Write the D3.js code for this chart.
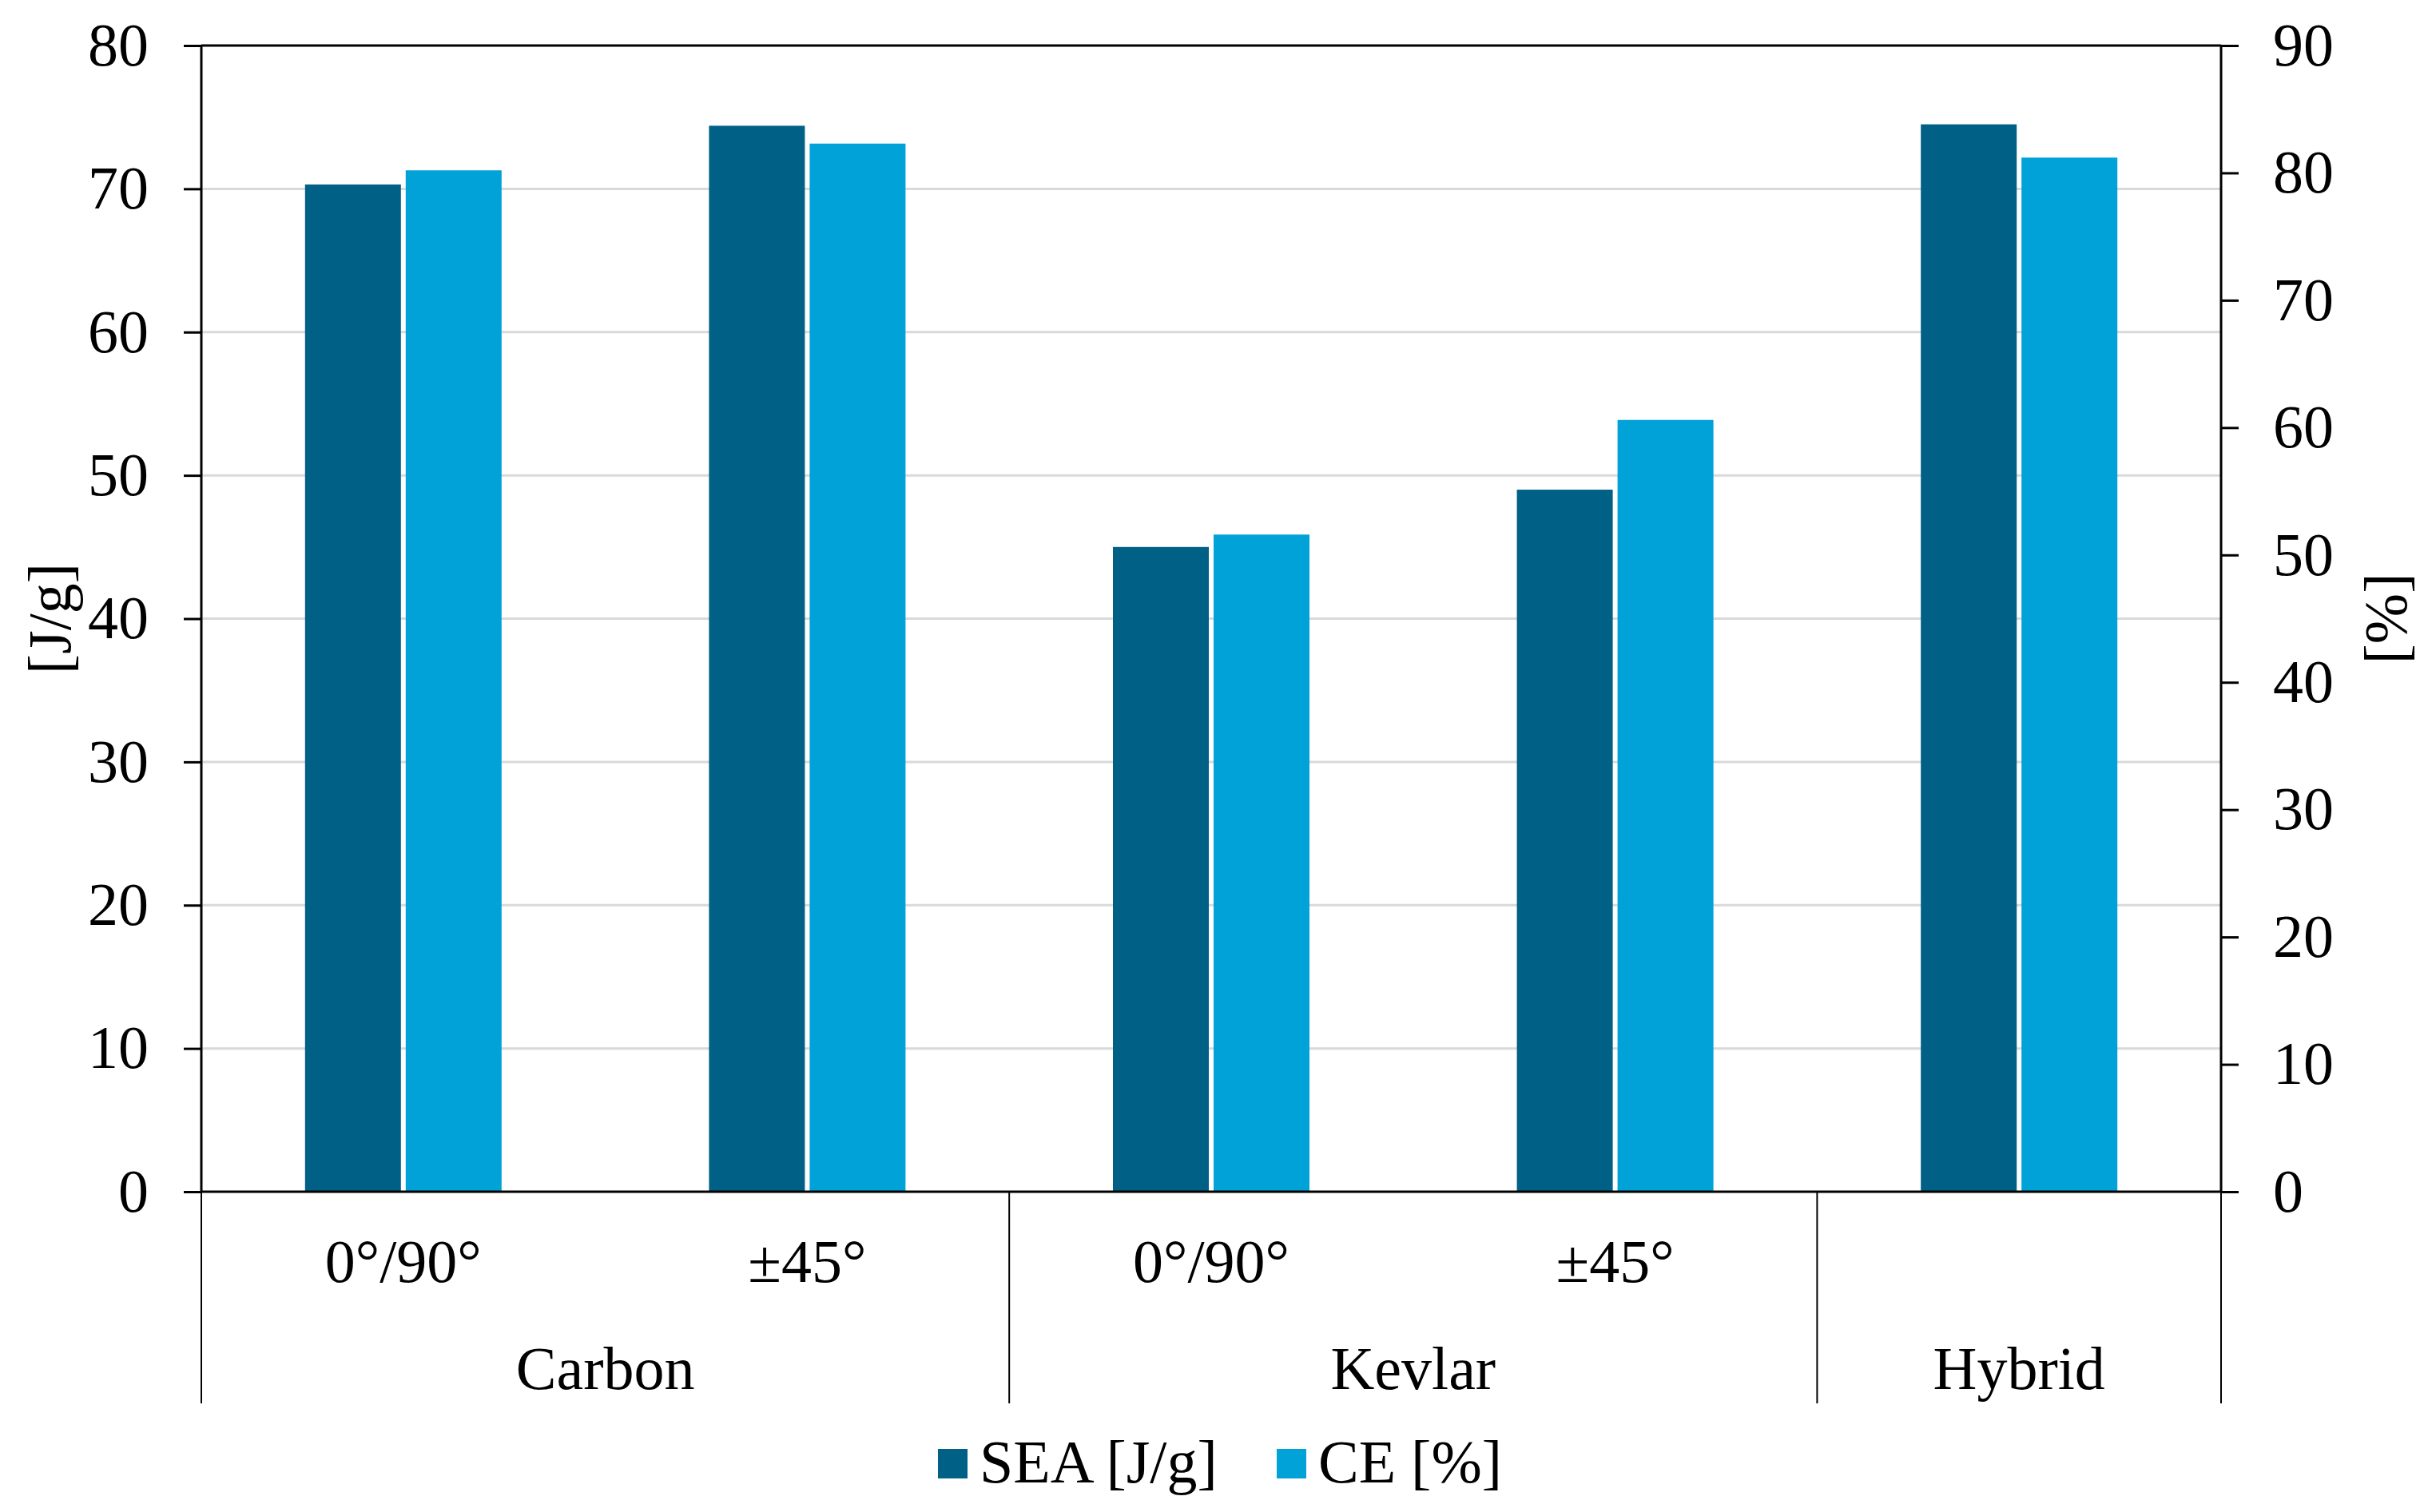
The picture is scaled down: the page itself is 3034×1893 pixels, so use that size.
<!DOCTYPE html>
<html>
<head>
<meta charset="utf-8">
<script src="https://cdn.jsdelivr.net/npm/d3@7"></script>
<style>
  body { margin: 0; background: #fff; }
  text { font-family: "Liberation Serif", "Times New Roman", serif; fill: #000; }
</style>
</head>
<body>
<script>
// data
let subLabels = ['0°/90°', '±45°', '0°/90°', '±45°', '']
let subGroups = ['Carbon', 'Carbon', 'Kevlar', 'Kevlar', 'Hybrid']
let groups = ['Carbon', 'Kevlar', 'Hybrid']
let seaValues = [70.3, 74.4, 45.0, 49.0, 74.5]
let ceValues = [80.2, 82.3, 51.6, 60.6, 81.2]
let leftTicks = [0, 10, 20, 30, 40, 50, 60, 70, 80]
let rightTicks = [0, 10, 20, 30, 40, 50, 60, 70, 80, 90]
let seriesNames = ['SEA [J/g]', 'CE [%]']

const W = 3034
const H = 1893
const SEA_COLOR = '#006085'
const CE_COLOR = '#00a2d8'
const FONT = 76

let plotLeft = 252, plotRight = 2780, plotTop = 57, plotBottom = 1492, catBottom = 1757

let svg = d3.select('body').append('svg')
    .attr('width', W)
    .attr('height', H)

let yL = d3.scaleLinear().domain([0, 80]).range([plotBottom, plotTop])
let yR = d3.scaleLinear().domain([0, 90]).range([plotBottom, plotTop])
let idx = d3.range(subLabels.length)
let x0 = d3.scaleBand().domain(idx).range([plotLeft, plotRight])
let x1 = d3.scaleBand().domain(['sea', 'ce']).range([-123, 123]).paddingInner(0.0476)

// gridlines
svg.append('g').selectAll('line')
    .data(leftTicks.filter(t => t > 0 && t < 80))
    .join('line')
    .attr('x1', plotLeft).attr('x2', plotRight)
    .attr('y1', d => yL(d)).attr('y2', d => yL(d))
    .attr('stroke', '#d9d9d9')
    .attr('stroke-width', 3)

// bars
let rows = idx.map(i => ({i: i, sea: seaValues[i], ce: ceValues[i]}))
let barG = svg.append('g')
barG.selectAll('.sea')
    .data(rows)
    .join('rect')
    .classed('sea', true)
    .attr('x', d => x0(d.i) + x0.bandwidth() / 2 + x1('sea'))
    .attr('width', x1.bandwidth())
    .attr('y', d => yL(d.sea))
    .attr('height', d => plotBottom - yL(d.sea))
    .attr('fill', SEA_COLOR)
barG.selectAll('.ce')
    .data(rows)
    .join('rect')
    .classed('ce', true)
    .attr('x', d => x0(d.i) + x0.bandwidth() / 2 + x1('ce'))
    .attr('width', x1.bandwidth())
    .attr('y', d => yR(d.ce))
    .attr('height', d => plotBottom - yR(d.ce))
    .attr('fill', CE_COLOR)

// axes
let leftAxis = svg.append('g')
    .attr('transform', `translate(${plotLeft},0)`)
    .call(d3.axisLeft(yL).tickValues(leftTicks).tickSize(22).tickPadding(44).tickSizeOuter(0))
let rightAxis = svg.append('g')
    .attr('transform', `translate(${plotRight},0)`)
    .call(d3.axisRight(yR).tickValues(rightTicks).tickSize(22).tickPadding(43).tickSizeOuter(0))
for (let a of [leftAxis, rightAxis]) {
    a.attr('font-family', null).attr('font-size', null)
    a.select('.domain').remove()
    a.selectAll('.tick line').attr('stroke', '#000').attr('stroke-width', 3)
    a.selectAll('.tick text').style('font-size', FONT + 'px')
}

// frame lines
svg.append('line')
    .attr('x1', plotLeft).attr('x2', plotRight).attr('y1', yL(80)).attr('y2', yL(80))
    .attr('stroke', '#000').attr('stroke-width', 3)
svg.append('line')
    .attr('x1', plotLeft).attr('x2', plotRight).attr('y1', yL(0)).attr('y2', yL(0))
    .attr('stroke', '#000').attr('stroke-width', 3)
svg.append('line')
    .attr('x1', plotLeft).attr('x2', plotLeft).attr('y1', plotTop).attr('y2', plotBottom)
    .attr('stroke', '#000').attr('stroke-width', 3)
svg.append('line')
    .attr('x1', plotRight).attr('x2', plotRight).attr('y1', plotTop).attr('y2', plotBottom)
    .attr('stroke', '#000').attr('stroke-width', 3)

// category axis: group separators
let bounds = [plotLeft]
groups.forEach(g => {
    let last = d3.max(idx.filter(i => subGroups[i] == g))
    bounds.push(x0(last) + x0.bandwidth())
})
svg.append('g').selectAll('line')
    .data(bounds)
    .join('line')
    .attr('x1', d => d).attr('x2', d => d)
    .attr('y1', plotBottom).attr('y2', catBottom)
    .attr('stroke', '#000').attr('stroke-width', 2)

svg.append('g').selectAll('text')
    .data(idx)
    .join('text')
    .attr('x', i => x0(i) + x0.bandwidth() / 2)
    .attr('y', 1605)
    .attr('text-anchor', 'middle')
    .style('font-size', FONT + 'px')
    .text(i => subLabels[i])

svg.append('g').selectAll('text')
    .data(groups)
    .join('text')
    .attr('x', (g, k) => (bounds[k] + bounds[k + 1]) / 2)
    .attr('y', 1739)
    .attr('text-anchor', 'middle')
    .style('font-size', FONT + 'px')
    .text(g => g)

// axis titles
svg.append('text')
    .attr('transform', `translate(88,${(plotTop + plotBottom) / 2}) rotate(-90)`)
    .attr('text-anchor', 'middle')
    .style('font-size', FONT + 'px')
    .text('[J/g]')
svg.append('text')
    .attr('transform', `translate(3012,${(plotTop + plotBottom) / 2}) rotate(-90)`)
    .attr('text-anchor', 'middle')
    .style('font-size', FONT + 'px')
    .text('[%]')

// legend
let legendX = [1174, 1598]
let legend = svg.append('g').selectAll('g')
    .data(seriesNames)
    .join('g')
    .attr('transform', (d, i) => `translate(${legendX[i]},1832)`)
legend.append('rect')
    .attr('x', 0).attr('y', -18).attr('width', 37).attr('height', 37)
    .attr('fill', (d, i) => i == 0 ? SEA_COLOR : CE_COLOR)
legend.append('text')
    .attr('x', 52).attr('y', 24)
    .style('font-size', FONT + 'px')
    .text(d => d)
</script>
</body>
</html>
